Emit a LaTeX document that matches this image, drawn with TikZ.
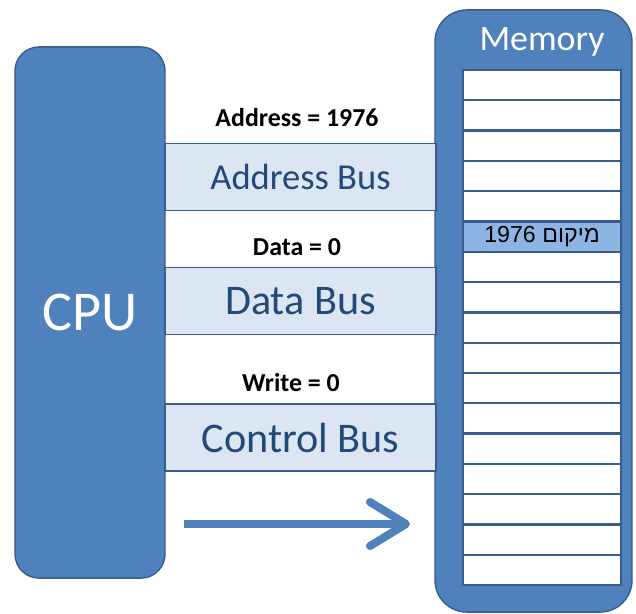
\documentclass[tikz,border=0pt]{standalone}
\usepackage{fontspec}
\setmainfont{Carlito}
\newfontfamily\hebfont[Script=Hebrew]{Liberation Sans}
\TeXXeTstate=1
\usetikzlibrary{arrows.meta}

\definecolor{cpublue}{RGB}{79,129,189}
\definecolor{edgeblue}{RGB}{56,93,138}
\definecolor{busfill}{RGB}{220,230,242}
\definecolor{bustext}{RGB}{36,72,120}
\definecolor{hilite}{RGB}{142,180,227}

\begin{document}
\begin{tikzpicture}[x=0.025cm, y=-0.025cm,
        unit/.style={draw=edgeblue, fill=cpublue, line width=1pt, text=white},
        bus/.style={draw=edgeblue, fill=busfill, line width=1pt, minimum width=6.775cm,
            minimum height=1.675cm, text=bustext, font=\fontsize{30}{36}\selectfont},
        value/.style={font=\bfseries\fontsize{18.4}{22}\selectfont},
        cell/.style={draw=edgeblue, fill=white, line width=1.6pt, minimum width=3.95cm,
            minimum height=0.7575cm, inner sep=0pt}]
            \useasboundingbox[fill=white] (0, 0) rectangle (636, 613);
            %\draw[lightgray, step=50] (0, 0) grid (636, 613);
            \node[unit, rounded corners=0.6cm, minimum width=3.75cm, minimum height=13.275cm,
                font=\fontsize{40}{46}\selectfont] (cpu) at (90, 312.5) {CPU};
            \node[unit, rounded corners=0.8cm, minimum width=4.925cm, minimum height=15.05cm] (mem) at (533.5, 311) {};
            \node[text=white, font=\fontsize{25.5}{30}\selectfont] (memtitle) at (542, 42) {Memory};
            \foreach \i in {0,...,16}
                \node[cell] (cell\i) at (542, 85.15 + 30.3*\i) {};
            \node[cell, fill=hilite, font=\hebfont\fontsize{16.5}{19}\selectfont] (loc) at (cell5) {\beginR מיקום \beginL1976\endL\endR};
            \node[bus, font=\fontsize{26}{31}\selectfont] (abus) at (300.5, 177) {Address Bus};
            \node[bus] (dbus) at (300.5, 301) {Data Bus};
            \node[bus] (cbus) at (300.5, 437.5) {Control Bus};
            \node[value] (aval) at (297, 118) {Address = 1976};
            \node[value] (dval) at (297, 247) {Data = 0};
            \node[value] (wval) at (291, 383) {Write = 0};
            \coordinate (flowstart) at (184, 524);
            \coordinate (flowend) at (410, 524);
            \draw[cpublue, line width=5.7pt, -{Straight Barb[length=0.9cm, width=1.1cm, round]}] (flowstart) -- (flowend);
        \end{tikzpicture}
\end{document}
